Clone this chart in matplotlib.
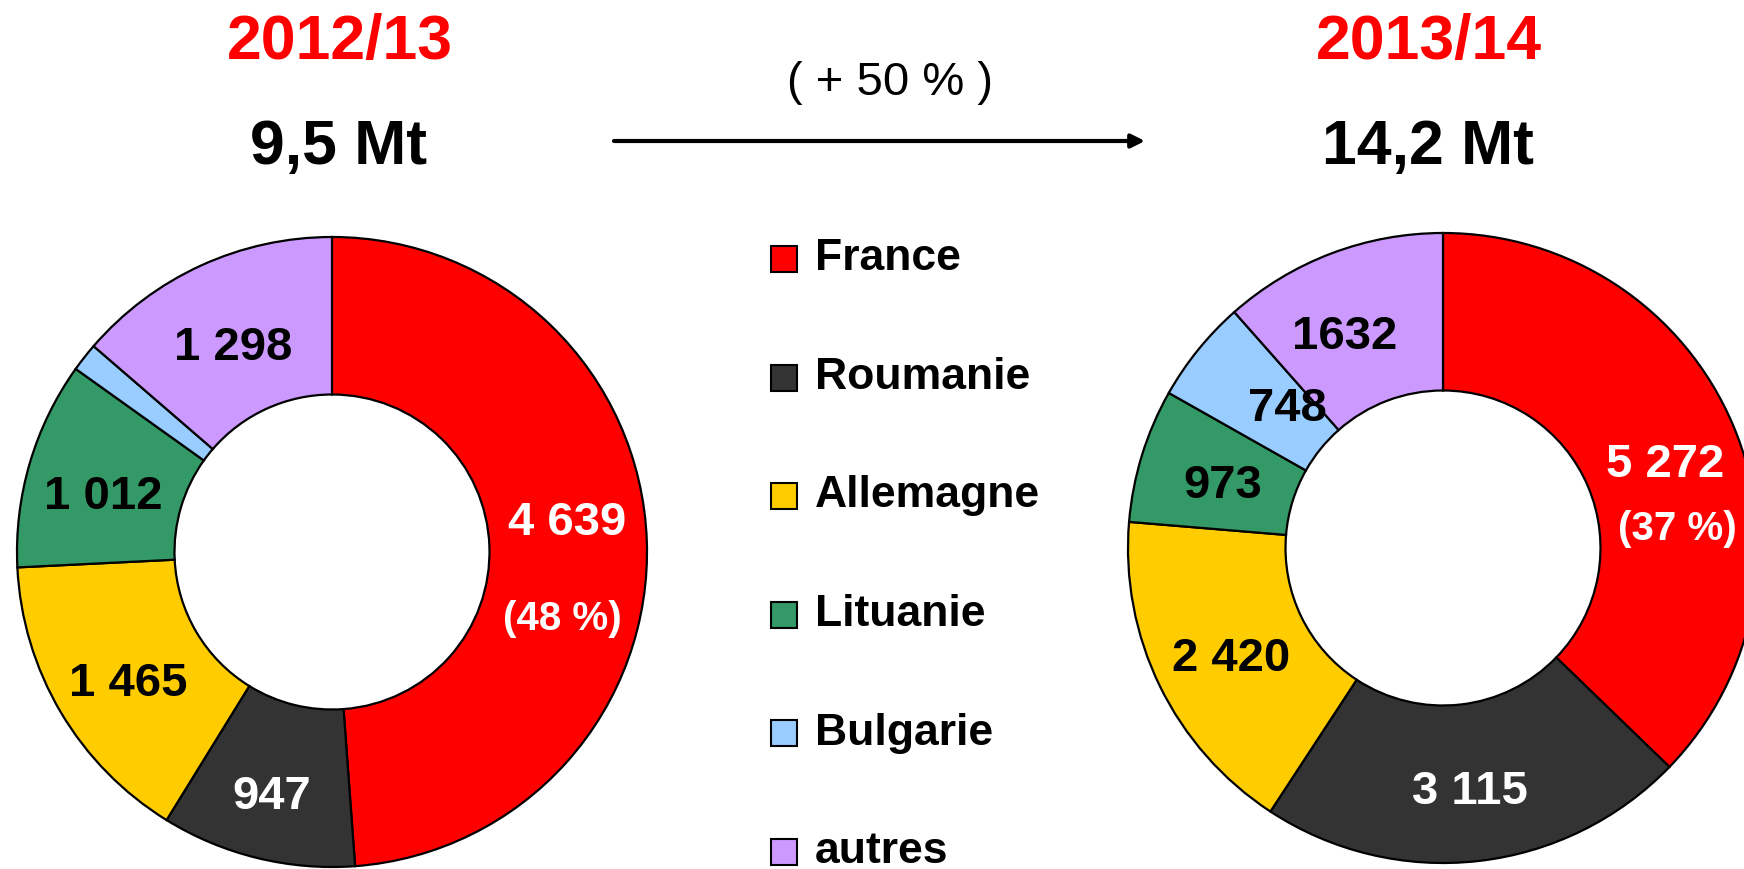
import matplotlib
matplotlib.use("Agg")
import matplotlib.pyplot as plt
from matplotlib.patches import Rectangle

plt.rcParams['font.family'] = ['Liberation Sans', 'DejaVu Sans']

# ---------------- data ----------------
categories = ["France", "Roumanie", "Allemagne", "Lituanie", "Bulgarie", "autres"]
colors = ["#FF0000", "#333333", "#FFCC00", "#339966", "#99CCFF", "#CC99FF"]

values_1213 = [4639, 947, 1465, 1012, 139, 1298]
values_1314 = [5272, 3115, 2420, 973, 748, 1632]

labels_1213 = ["4 639", "947", "1 465", "1 012", "", "1 298"]
labels_1314 = ["5 272", "3 115", "2 420", "973", "748", "1632"]
share_1213 = "(48 %)"
share_1314 = "(37 %)"

season_1213 = "2012/13"
season_1314 = "2013/14"
total_1213 = "9,5 Mt"
total_1314 = "14,2 Mt"
growth = "( + 50 % )"

# ---------------- layout ----------------
W, H = 1744, 869
fig = plt.figure(figsize=(W / 100, H / 100), dpi=100)
fig.patch.set_facecolor("white")

ax0 = fig.add_axes([0, 0, 1, 1])
ax0.set_xlim(0, W)
ax0.set_ylim(H, 0)
ax0.axis("off")

R_PX = 315


def donut_ax(cx, cy, R=R_PX, lim=1.05):
    s = R * lim
    ax = fig.add_axes([(cx - s) / W, (H - cy - s) / H, 2 * s / W, 2 * s / H])
    return ax, lim


def draw_donut(ax, lim, vals, lbls, label_pos, txt_colors, share, share_pos, share_ha):
    ax.pie(vals, colors=colors, startangle=90, counterclock=False, radius=1,
           wedgeprops=dict(width=0.5, edgecolor="black", linewidth=1.6))
    ax.set_xlim(-lim, lim)
    ax.set_ylim(-lim, lim)
    ax.set_aspect("equal")
    ax.axis("off")
    for lbl, pos, tc in zip(lbls, label_pos, txt_colors):
        if lbl:
            ax.text(pos[0], pos[1], lbl, ha="center", va="center",
                    fontsize=34, fontweight="bold", color=tc)
    ax.text(share_pos[0], share_pos[1], share, ha=share_ha, va="center",
            fontsize=29, fontweight="bold", color="white", clip_on=False)


txt_colors = ["white", "white", "black", "black", "black", "black"]

axL, limL = donut_ax(332, 552)
posL = [(0.746, 0.092), (-0.19, -0.778), (-0.648, -0.419), (-0.727, 0.175),
        (0, 0), (-0.314, 0.648)]
draw_donut(axL, limL, values_1213, labels_1213, posL, txt_colors,
           share_1213, (0.730, -0.213), "center")

axR, limR = donut_ax(1443, 548)
posR = [(0.705, 0.263), (0.086, -0.775), (-0.673, -0.352), (-0.698, 0.197),
        (-0.495, 0.441), (-0.311, 0.67)]
draw_donut(axR, limR, values_1314, labels_1314, posR, txt_colors,
           share_1314, (0.932, 0.06), "right")

# ---------------- headings ----------------
ax0.text(340, 42, season_1213, ha="center", va="center", fontsize=45,
         fontweight="bold", color="#FF0000")
ax0.text(1429, 42, season_1314, ha="center", va="center", fontsize=45,
         fontweight="bold", color="#FF0000")
ax0.text(339, 148, total_1213, ha="center", va="center", fontsize=45,
         fontweight="bold", color="black")
ax0.text(1428, 148, total_1314, ha="center", va="center", fontsize=45,
         fontweight="bold", color="black")
ax0.text(890, 83, growth, ha="center", va="center", fontsize=34, color="black")
ax0.annotate("", xy=(1145, 141), xytext=(614, 141),
             arrowprops=dict(arrowstyle="-|>", lw=3.0, color="black",
                             mutation_scale=20, shrinkA=0, shrinkB=0))

# ---------------- legend ----------------
leg_y0, leg_dy = 259, 118.5
for i, (cat, col) in enumerate(zip(categories, colors)):
    y = leg_y0 + i * leg_dy
    ax0.add_patch(Rectangle((771, y - 13), 26, 26, facecolor=col,
                            edgecolor="black", linewidth=1.5))
    ax0.text(815, y, cat, ha="left", va="center", fontsize=32,
             fontweight="bold", color="black")

fig.savefig("out.png", dpi=100)
